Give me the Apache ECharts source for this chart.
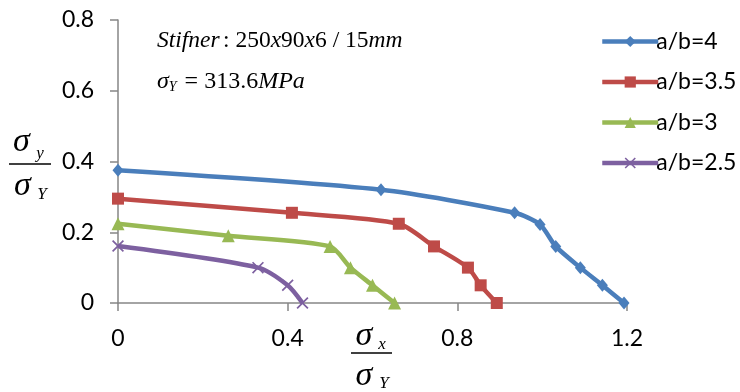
<!DOCTYPE html>
<html>
<head>
<meta charset="utf-8">
<script src="https://cdn.jsdelivr.net/npm/echarts@6/dist/echarts.min.js"></script>
<style>
  html, body { margin: 0; padding: 0; background: #fff; }
  #chart { width: 740px; height: 392px; }
</style>
</head>
<body>
<div id="chart"></div>
<script>
// values: [sigma_x/sigma_Y, sigma_y/sigma_Y]
const ab4 = [[0, 0.375], [0.62, 0.32], [0.935, 0.255], [0.995, 0.222], [1.032, 0.16], [1.09, 0.1], [1.142, 0.05], [1.193, 0]];
const ab35 = [[0, 0.295], [0.41, 0.255], [0.662, 0.224], [0.745, 0.16], [0.825, 0.1], [0.855, 0.05], [0.893, 0]];
const ab3 = [[0, 0.224], [0.26, 0.19], [0.5, 0.16], [0.548, 0.1], [0.6, 0.05], [0.652, 0]];
const ab25 = [[0, 0.161], [0.33, 0.1], [0.4, 0.05], [0.435, 0]];
const seriesNames = ['a/b=4', 'a/b=3.5', 'a/b=3', 'a/b=2.5'];
const colors = ['#4a7ebb', '#be4b48', '#98b954', '#7d60a0'];
const symbols = [
  'diamond',
  'rect',
  'triangle',
  'path://M0,1 L1,0 L5,4 L9,0 L10,1 L6,5 L10,9 L9,10 L5,6 L1,10 L0,9 L4,5 Z'
];
const symbolSizes = [[11, 13], 12, 13, 12];

const labelFont = 'Lato, "Open Sans", sans-serif';
const mathFont = '"Liberation Serif", "DejaVu Serif", serif';

const chart = echarts.init(document.getElementById('chart'));

const mkSeries = (name, data, i) => ({
  name,
  type: 'line',
  data,
  smooth: 0.25,
  symbol: symbols[i],
  symbolSize: symbolSizes[i],
  showAllSymbol: true,
  lineStyle: { width: 4.5, color: colors[i] },
  itemStyle: { color: colors[i] },
  z: 10 - i
});

// small italic math glyph placed by its centre
const glyph = (text, x, y, size) => ({
  type: 'text', x, y,
  style: {
    text, fontFamily: mathFont, fontStyle: 'italic', fontSize: size,
    fill: '#000', align: 'center', verticalAlign: 'middle'
  }
});

const option = {
  animation: false,
  grid: { left: 118, right: 113, top: 20, bottom: 89 },
  xAxis: {
    type: 'value',
    min: 0, max: 1.2, interval: 0.4,
    axisLine: { show: true, lineStyle: { color: '#868686', width: 1.5 } },
    axisTick: { show: true, length: 8, lineStyle: { color: '#868686', width: 1.5 } },
    splitLine: { show: false },
    axisLabel: { color: '#000', fontSize: 23, fontFamily: labelFont, margin: 24 }
  },
  yAxis: {
    type: 'value',
    min: 0, max: 0.8, interval: 0.2,
    axisLine: { show: true, lineStyle: { color: '#868686', width: 1.5 } },
    axisTick: { show: true, length: 8, lineStyle: { color: '#868686', width: 1.5 } },
    splitLine: { show: false },
    axisLabel: { color: '#000', fontSize: 23, fontFamily: labelFont, margin: 24 }
  },
  legend: {
    orient: 'vertical',
    left: 595,
    top: 25,
    itemWidth: 56,
    itemHeight: 14,
    itemGap: 17.5,
    data: seriesNames,
    lineStyle: { width: 4.5 },
    textStyle: { color: '#000', fontSize: 23, fontFamily: labelFont, padding: [0, 0, 0, -7] }
  },
  graphic: [
    {
      type: 'text', x: 157, y: 41,
      style: {
        verticalAlign: 'middle',
        text: '{i|Stifner} {n|: 250}{i|x}{n|90}{i|x}{n|6 / 15}{i|mm}',
        rich: {
          i: { fontFamily: mathFont, fontStyle: 'italic', fontSize: 23.5, fill: '#000' },
          n: { fontFamily: mathFont, fontSize: 23.5, fill: '#000' }
        }
      }
    },
    {
      type: 'text', x: 157, y: 82,
      style: {
        verticalAlign: 'middle',
        text: '{i|σ}{s|Y}{n| = 313.6}{i|MPa}',
        rich: {
          i: { fontFamily: mathFont, fontStyle: 'italic', fontSize: 24, fill: '#000' },
          s: { fontFamily: mathFont, fontStyle: 'italic', fontSize: 14, fill: '#000', verticalAlign: 'bottom', padding: [9, 2, 0, 0] },
          n: { fontFamily: mathFont, fontSize: 24, fill: '#000' }
        }
      }
    },
    // y-axis name: sigma_y / sigma_Y
    glyph('σ', 21.5, 142.5, 34),
    glyph('y', 40, 154, 17),
    { type: 'line', shape: { x1: 9, y1: 164, x2: 51, y2: 164 }, style: { stroke: '#000', lineWidth: 1.3 } },
    glyph('σ', 22.5, 186.5, 34),
    glyph('Y', 42, 195, 17),
    // x-axis name: sigma_x / sigma_Y
    glyph('σ', 364, 336, 34),
    glyph('x', 382, 345, 17),
    { type: 'line', shape: { x1: 351, y1: 353, x2: 392, y2: 353 }, style: { stroke: '#000', lineWidth: 1.3 } },
    glyph('σ', 364, 376.5, 34),
    glyph('Y', 384, 383.5, 17)
  ],
  series: [
    mkSeries(seriesNames[0], ab4, 0),
    mkSeries(seriesNames[1], ab35, 1),
    mkSeries(seriesNames[2], ab3, 2),
    mkSeries(seriesNames[3], ab25, 3)
  ]
};

chart.setOption(option);
</script>
</body>
</html>
